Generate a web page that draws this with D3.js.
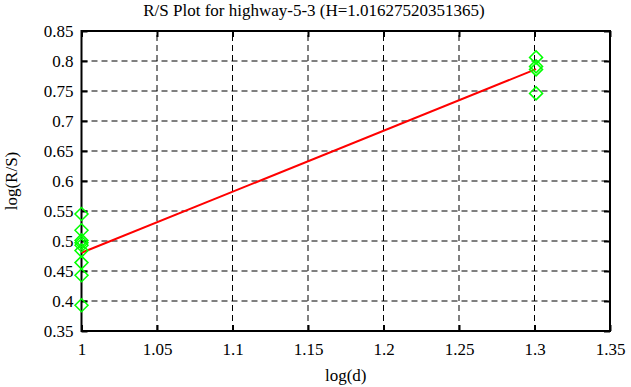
<!DOCTYPE html>
<html>
<head>
<meta charset="utf-8">
<script src="https://cdn.jsdelivr.net/npm/d3@7"></script>
<style>
  body { margin: 0; background: #fff; }
</style>
</head>
<body>
<div id="chart"></div>
<script>
// log(d) of the two window sizes (d = 10, d = 20)
var leftX = 1,
    rightX = 1.30103;

// log(R/S) values
var leftVals = [0.545, 0.518, 0.501, 0.497, 0.493, 0.484, 0.464, 0.443, 0.393];
var rightVals = [0.806, 0.791, 0.786, 0.746];

// fitted line
var hurst = 1.01627520351365,
    intercept = -0.5358;

var xTicks = [1, 1.05, 1.1, 1.15, 1.2, 1.25, 1.3, 1.35];
var yTicks = [0.35, 0.4, 0.45, 0.5, 0.55, 0.6, 0.65, 0.7, 0.75, 0.8, 0.85];

var width = 631,
    height = 387,
    margin = { top: 31, right: 21, bottom: 56, left: 81.5 };

var serif = "'Liberation Serif', 'Times New Roman', Times, 'DejaVu Serif', serif";

var points = leftVals.map(function(v) { return { x: leftX, y: v }; })
    .concat(rightVals.map(function(v) { return { x: rightX, y: v }; }));

var svg = d3.select("#chart")
    .append("svg")
    .attr("width", width)
    .attr("height", height)
    .style("font-family", serif);

var x = d3.scaleLinear()
    .domain([1, 1.35])
    .range([margin.left, width - margin.right]);

var y = d3.scaleLinear()
    .domain([0.35, 0.85])
    .range([height - margin.bottom, margin.top]);

/* grid */
var grid = svg.append("g").attr("class", "grid");

grid.selectAll(".vgrid")
    .data(xTicks.slice(1, -1))
    .enter().append("line")
    .attr("x1", function(d) { return x(d); })
    .attr("x2", function(d) { return x(d); })
    .attr("y1", y(0.35))
    .attr("y2", y(0.85))
    .attr("stroke", "#000")
    .attr("stroke-width", 1)
    .attr("stroke-dasharray", "6,4");

grid.selectAll(".hgrid")
    .data(yTicks.slice(1, -1))
    .enter().append("line")
    .attr("x1", x(1))
    .attr("x2", x(1.35))
    .attr("y1", function(d) { return y(d); })
    .attr("y2", function(d) { return y(d); })
    .attr("stroke", "#000")
    .attr("stroke-width", 1)
    .attr("stroke-dasharray", "6,4");

/* axes: ticks pointing inward, on all four sides */
var fontSize = 17;
var fmt = function(d) { return String(+d.toFixed(2)); };

svg.append("g")
    .attr("transform", "translate(0," + y(0.35) + ")")
    .call(d3.axisBottom(x).tickValues(xTicks).tickSize(-6).tickPadding(12).tickFormat(fmt));

svg.append("g")
    .attr("transform", "translate(" + x(1) + ",0)")
    .call(d3.axisLeft(y).tickValues(yTicks).tickSize(-6).tickPadding(8).tickFormat(fmt));

svg.append("g")
    .attr("transform", "translate(0," + y(0.85) + ")")
    .call(d3.axisTop(x).tickValues(xTicks).tickSize(-6).tickFormat(""));

svg.append("g")
    .attr("transform", "translate(" + x(1.35) + ",0)")
    .call(d3.axisRight(y).tickValues(yTicks).tickSize(-6).tickFormat(""));

svg.selectAll(".domain").remove();
svg.selectAll("g").attr("font-family", null);
svg.selectAll(".tick line").attr("stroke", "#000").attr("stroke-width", 2);
svg.selectAll(".tick text")
    .style("font-family", serif)
    .attr("font-size", fontSize)
    .attr("fill", "#000");

/* border */
svg.append("rect")
    .attr("x", x(1))
    .attr("y", y(0.85))
    .attr("width", x(1.35) - x(1))
    .attr("height", y(0.35) - y(0.85))
    .attr("fill", "none")
    .attr("stroke", "#000")
    .attr("stroke-width", 2);

/* fitted line */
svg.append("line")
    .attr("x1", x(leftX))
    .attr("y1", y(hurst * leftX + intercept))
    .attr("x2", x(rightX))
    .attr("y2", y(hurst * rightX + intercept))
    .attr("stroke", "#ff0000")
    .attr("stroke-width", 2);

/* data points as diamonds */
var r = 6.5;
svg.append("g")
    .selectAll("path")
    .data(points)
    .enter().append("path")
    .attr("d", function(d) {
        var cx = x(d.x), cy = y(d.y);
        return "M" + cx + "," + (cy - r) + "L" + (cx + r) + "," + cy +
               "L" + cx + "," + (cy + r) + "L" + (cx - r) + "," + cy + "Z";
    })
    .attr("fill", "none")
    .attr("stroke", "#00ff00")
    .attr("stroke-width", 1.5);

/* titles */
svg.append("text")
    .attr("x", 314)
    .attr("y", 16)
    .attr("text-anchor", "middle")
    .attr("font-size", fontSize)
    .style("font-family", serif)
    .text("R/S Plot for highway-5-3 (H=1.01627520351365)");

svg.append("text")
    .attr("x", (x(1) + x(1.35)) / 2)
    .attr("y", 381)
    .attr("text-anchor", "middle")
    .attr("font-size", fontSize)
    .style("font-family", serif)
    .text("log(d)");

svg.append("text")
    .attr("transform", "translate(17," + ((y(0.35) + y(0.85)) / 2) + ") rotate(-90)")
    .attr("text-anchor", "middle")
    .attr("font-size", fontSize)
    .style("font-family", serif)
    .text("log(R/S)");
</script>
</body>
</html>
